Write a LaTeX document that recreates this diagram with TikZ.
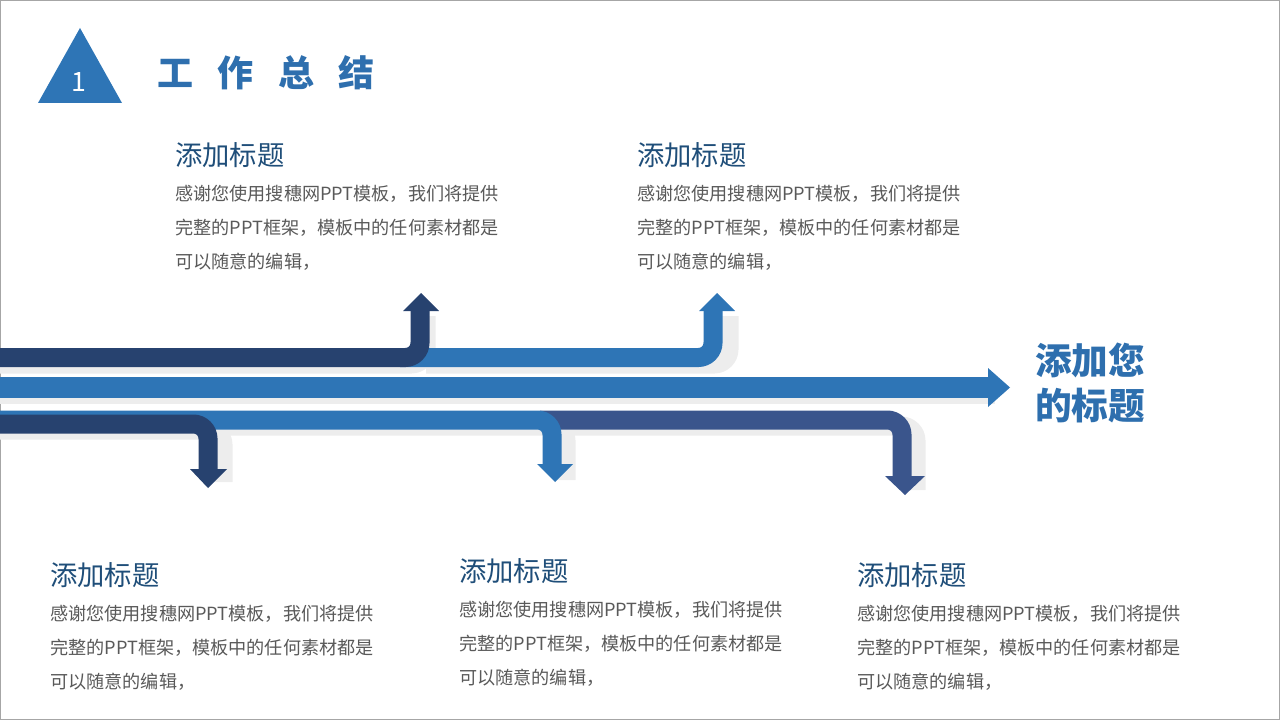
\documentclass[tikz,border=0pt]{standalone}
\usepackage{fontspec}
\setmainfont{Noto Sans CJK SC}
\usetikzlibrary{calc}
\definecolor{navy}{HTML}{27426F}
\definecolor{blu}{HTML}{2E75B6}
\definecolor{mnavy}{HTML}{3A558C}
\definecolor{ttl}{HTML}{2E6FAE}
\definecolor{txt}{HTML}{595959}
\definecolor{hd}{HTML}{1F4E79}
\begin{document}
\begin{tikzpicture}[x=0.75pt,y=-0.75pt,
 band/.style={line width=14.25pt,rounded corners=11pt},
 shd/.style={band,draw=black!7},
 ht/.style={anchor=west,text=hd,font=\fontsize{20.5}{22}\selectfont,inner sep=0},
 bt/.style={anchor=north west,text=txt,font=\fontsize{13.6}{25.5}\selectfont,align=left,inner sep=0}]
\useasboundingbox (0,0) rectangle (1280,720);
\draw[black!35,line width=0.75pt] (0.5,0.5) rectangle (1279.5,719.5);
% header
\fill[blu] (38,103) -- (122,103) -- (80,28) -- cycle;
\node[text=white,font=\fontsize{20}{22}\selectfont] (one) at (79,82) {1};
\node[anchor=west,text=ttl,font=\fontsize{27}{30}\bfseries\selectfont,inner sep=0] (hdr) at (157,73) {工\hspace{0.68em}作\hspace{0.68em}总\hspace{0.68em}结};
% shadows
\draw[shd] (0,364) -- (426,364) -- (426,316);
\draw[shd] (426,364) -- (729,364) -- (729,316);
\draw[shd] (0,394) -- (995,394);
\draw[shd] (560,426) -- (916,426) -- (916,490);
\draw[shd] (0,426) -- (566,426) -- (566,480);
\draw[shd] (0,430) -- (223,430) -- (223,482);
% upper light blue
\draw[band,draw=blu] (400,357.5) -- (713,357.5) -- (713,310);
\fill[blu] (699,311) -- (735,311) -- (717,293) -- cycle;
% upper navy
\draw[band,draw=navy] (0,357.5) -- (420,357.5) -- (420,310);
\fill[navy] (403,311) -- (439,311) -- (421,293) -- cycle;
% main
\fill[blu] (0,377) rectangle (989,398);
\fill[blu] (988,368) -- (1010,387.5) -- (988,407) -- cycle;
% lower right navy
\draw[band,draw=mnavy] (540,420) -- (902,420) -- (902,478);
\fill[mnavy] (885,476) -- (925,476) -- (905,495) -- cycle;
% lower blue
\draw[band,draw=blu] (0,420) -- (552,420) -- (552,466);
\fill[blu] (537,464) -- (573,464) -- (555,482) -- cycle;
% lower navy
\draw[band,draw=navy] (0,424) -- (208,424) -- (208,470);
\fill[navy] (190,469) -- (227,469) -- (208,488) -- cycle;
% side title
\node[anchor=north west,text=ttl,font=\fontsize{27.5}{33.75}\bfseries\selectfont,align=left,inner sep=0] (side) at (1035,343) {添加您\\的标题};
% text blocks
\newcommand{\blk}[3]{%
 \node[ht] (t#3) at (#1,#2) {添加标题};
 \node[bt] (b#3) at (#1,#2+30) {感谢您使用搜穗网PPT模板，我们将提供\\完整的PPT框架，模板中的任何素材都是\\可以随意的编辑，};}
\blk{175}{155}{1}
\blk{637}{155}{2}
\blk{50}{575}{3}
\blk{459}{571}{4}
\blk{857}{575}{5}
\end{tikzpicture}
\end{document}
